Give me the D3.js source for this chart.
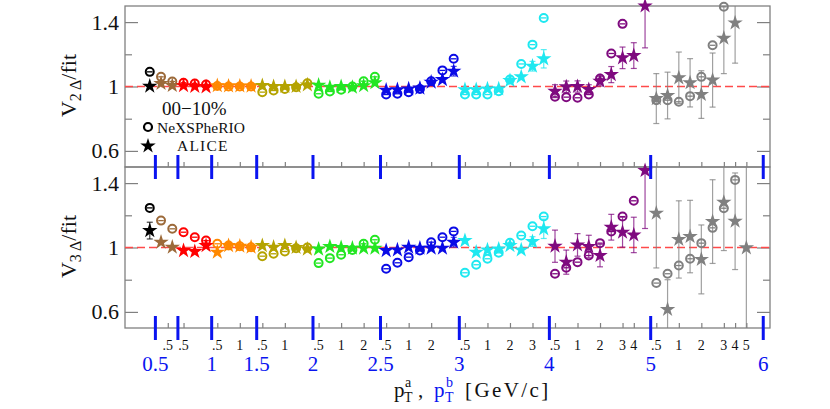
<!DOCTYPE html>
<html>
<head>
<meta charset="utf-8">
<script src="https://cdn.jsdelivr.net/npm/d3@7"></script>
<style>
  body { margin: 0; background: #fff; }
  svg, svg text { font-family: "Liberation Serif", "DejaVu Serif", serif; }
</style>
</head>
<body>
<script>
const width = 830, height = 409;
const serif = '"Liberation Serif", "DejaVu Serif", serif';

// pT^a bins : group g holds g+1 pT^b slots
const groupColors = ['#000000', '#9c6a3a', '#ff0000', '#ff8800', '#b4a300',
                     '#22e622', '#0a0ae6', '#1ee8f0', '#7f0a7f', '#808080'];
const edgeLabels = ['0.5', '', '1', '1.5', '2', '2.5', '3', '4', '5', '6'];
const ptbLabels = ['.5', '1', '2', '3', '4', '5'];
const ptbSlots = [0, 2, 4, 6, 7, 8];

// NeXSPheRIO (open circles), ALICE (stars) -- V2
const v2Hydro = [
  1.091,
  1.06, 1.031,
  1.023, 1.019, 1.012,
  1.003, 1.0, 1.0, 1.0,
  0.965, 0.975, 0.985, 0.995, 1.02,
  0.955, 0.969, 0.98, 1.0, 1.033, 1.06,
  0.95, 0.955, 0.965, 0.985, 1.033, 1.1, 1.172,
  0.95, 0.95, 0.95, 0.97, 1.043, 1.14, 1.26, 1.426,
  0.936, 0.934, 0.93, 0.95, 1.05, 1.205, 1.389, null, null,
  0.915, 0.915, 0.905, 0.94, 1.06, 1.256, 1.495, null, null, null
];
const v2Alice = [
  1.002,
  1.019, 1.006,
  1.005, 1.0, 0.998,
  1.005, 1.003, 1.003, 1.002,
  1.006, 1.0, 1.0, 1.0, 1.01,
  1.008, 0.995, 1.0, 0.995, 1.005, 1.023,
  0.977, 0.98, 0.985, 0.99, 1.027, 1.043, 1.095,
  0.98, 0.98, 0.985, 0.985, 1.037, 1.06, 1.126, 1.172,
  0.971, 0.998, 1.0, 0.981, 1.033, 1.074, 1.178, 1.192, 1.5,
  0.925, 0.944, 1.054, 1.023, 0.95, 1.04, 1.3, 1.395, null, null
];
const v2AliceErr = [
  0.005,
  0.005, 0.005,
  0.005, 0.005, 0.005,
  0.005, 0.005, 0.005, 0.005,
  0.005, 0.005, 0.005, 0.005, 0.008,
  0.005, 0.005, 0.006, 0.007, 0.008, 0.01,
  0.01, 0.01, 0.01, 0.012, 0.015, 0.02, 0.03,
  0.01, 0.01, 0.01, 0.012, 0.015, 0.02, 0.03, 0.057,
  0.04, 0.036, 0.035, 0.03, 0.03, 0.05, 0.067, 0.08, 0.26,
  0.155, 0.145, 0.16, 0.15, 0.148, 0.168, 0.22, 0.25, null, null
];

// V3
const v3Hydro = [
  1.246,
  1.167, 1.116,
  1.095, 1.064, 1.043,
  1.023, 1.012, 1.008, 1.002,
  0.946, 0.961, 0.975, 0.995, 1.0,
  0.903, 0.934, 0.955, 0.985, 1.023, 1.048,
  0.868, 0.905, 0.94, 0.981, 1.033, 1.064, 1.1,
  0.843, 0.893, 0.93, 0.967, 1.029, 1.074, 1.132, 1.192,
  0.837, 0.874, 0.909, 0.95, 1.027, 1.099, 1.192, 1.29, null,
  0.779, 0.837, 0.888, 0.93, 1.027, 1.122, 1.244, 1.42, null, null
];
const v3Alice = [
  1.105,
  1.033, 1.002,
  0.981, 0.975, 1.012,
  0.971, 1.012, 1.008, 1.002,
  1.012, 1.002, 1.012, 1.0, 0.99,
  0.99, 1.006, 1.0, 0.996, 0.996, 0.996,
  0.981, 0.985, 1.002, 0.996, 0.996, 0.996, 1.033,
  1.043, 0.971, 0.985, 0.99, 1.012, 0.985, 1.037, 1.116,
  1.008, 0.909, 1.016, 1.006, 0.95, 1.126, 1.095, 1.078, 1.478,
  1.213, 0.615, 1.05, 1.068, 0.926, 1.161, 1.281, 1.163, 0.998, null
];
const v3AliceErr = [
  0.052,
  0.01, 0.01,
  0.01, 0.01, 0.01,
  0.01, 0.01, 0.01, 0.01,
  0.01, 0.01, 0.01, 0.01, 0.01,
  0.01, 0.01, 0.01, 0.01, 0.012, 0.012,
  0.015, 0.015, 0.015, 0.015, 0.02, 0.02, 0.03,
  0.02, 0.015, 0.015, 0.015, 0.015, 0.02, 0.03, 0.06,
  0.1, 0.075, 0.07, 0.07, 0.07, 0.08, 0.093, 0.11, 0.36,
  0.34, 0.185, 0.24, 0.225, 0.214, 0.26, 0.3, 0.3, 0.6, null
];

// slot list
const slots = [];
groupColors.forEach((c, g) => {
  for (let s = 0; s <= g; s++) slots.push({ g, s, k: slots.length, color: c });
});
const groupStart = g => g * (g + 1) / 2;

const x = d3.scaleLinear().domain([-2.2, 55.1]).range([125, 770]);
const left = 125, right = 770;

const panels = [
  { top: 6, bottom: 167, hydro: v2Hydro, alice: v2Alice, err: v2AliceErr, n: '2' },
  { top: 167, bottom: 328, hydro: v3Hydro, alice: v3Alice, err: v3AliceErr, n: '3' }
];

// pT^b label positions (slot index), shared by minor ticks and labels
const ptbTicks = [];
slots.forEach(d => {
  ptbSlots.forEach((s, i) => {
    if (d.s === s && s <= d.g - 1) ptbTicks.push({ k: d.k + (d.g === 1 ? 0.6 : 0), lab: ptbLabels[i] });
  });
});

const svg = d3.select('body').append('svg')
  .attr('width', width)
  .attr('height', height)
  .attr('font-family', serif);

const star = d3.symbol().type(d3.symbolStar).size(74);

panels.forEach((p, pi) => {
  const y = d3.scaleLinear().domain([0.5, 1.5]).range([p.bottom, p.top]);
  const g = svg.append('g');

  svg.append('clipPath').attr('id', 'clip' + pi)
    .append('rect')
    .attr('x', left).attr('y', p.top)
    .attr('width', right - left).attr('height', p.bottom - p.top);

  // y axes (ticks inward)
  const yl = g.append('g').attr('transform', `translate(${left},0)`)
    .call(d3.axisLeft(y).tickValues([0.6, 1, 1.4]).tickSizeInner(-13).tickSizeOuter(0)
      .tickPadding(6).tickFormat(d3.format('~g')));
  g.append('g').attr('transform', `translate(${left},0)`)
    .call(d3.axisLeft(y).tickValues([0.8, 1.2]).tickSizeInner(-7).tickSizeOuter(0).tickFormat(''));
  g.append('g').attr('transform', `translate(${right},0)`)
    .call(d3.axisRight(y).tickValues([0.6, 1, 1.4]).tickSizeInner(-13).tickSizeOuter(0).tickFormat(''));
  g.append('g').attr('transform', `translate(${right},0)`)
    .call(d3.axisRight(y).tickValues([0.8, 1.2]).tickSizeInner(-7).tickSizeOuter(0).tickFormat(''));
  yl.attr('font-family', serif);
  yl.selectAll('text')
    .attr('font-size', 22)
    .attr('font-family', serif)
    .attr('fill', '#111');

  // x minor ticks at pT^b label slots
  g.append('g').attr('transform', `translate(0,${p.bottom})`)
    .call(d3.axisBottom(x).tickValues(ptbTicks.map(d => d.k)).tickSizeInner(-5).tickSizeOuter(0).tickFormat(''));

  g.selectAll('.domain').remove();
  g.selectAll('.tick line').attr('stroke', '#808080').attr('stroke-width', 1.2);

  // frame
  g.append('rect')
    .attr('x', left).attr('y', p.top)
    .attr('width', right - left).attr('height', p.bottom - p.top)
    .attr('fill', 'none').attr('stroke', '#808080').attr('stroke-width', 1.3);

  // reference line at 1
  g.append('line')
    .attr('x1', left).attr('x2', right)
    .attr('y1', y(1)).attr('y2', y(1))
    .attr('stroke', '#ff4a4a').attr('stroke-width', 1.3)
    .attr('stroke-dasharray', '8,4');

  // ALICE error bars
  const eb = g.append('g').attr('clip-path', `url(#clip${pi})`)
    .selectAll('g').data(slots.filter(d => p.alice[d.k] != null && p.err[d.k] != null))
    .join('g')
    .attr('stroke', d => d.color)
    .attr('stroke-opacity', 0.75)
    .attr('stroke-width', 1.2);
  eb.append('line')
    .attr('x1', d => x(d.k)).attr('x2', d => x(d.k))
    .attr('y1', d => y(p.alice[d.k] - p.err[d.k]))
    .attr('y2', d => y(p.alice[d.k] + p.err[d.k]));
  eb.filter(d => p.err[d.k] > 0.02).selectAll('.cap')
    .data(d => [-1, 1].map(sg => ({ d, v: p.alice[d.k] + sg * p.err[d.k] })))
    .join('line')
    .attr('x1', e => x(e.d.k) - 3).attr('x2', e => x(e.d.k) + 3)
    .attr('y1', e => y(e.v)).attr('y2', e => y(e.v));

  // NeXSPheRIO circles
  const hc = g.append('g').selectAll('g')
    .data(slots.filter(d => p.hydro[d.k] != null))
    .join('g')
    .attr('transform', d => `translate(${x(d.k)},${y(p.hydro[d.k])})`)
    .attr('stroke', d => d.color);
  hc.append('circle').attr('r', 4).attr('fill', 'none').attr('stroke-width', 2);
  hc.append('line').attr('x1', -2.8).attr('x2', 2.8).attr('stroke-width', 1.3);

  // ALICE stars
  g.append('g').selectAll('path')
    .data(slots.filter(d => p.alice[d.k] != null))
    .join('path')
    .attr('d', star)
    .attr('transform', d => `translate(${x(d.k)},${y(p.alice[d.k])})`)
    .attr('fill', d => d.color);

  // y title
  const t = svg.append('text')
    .attr('transform', `translate(76,${y(1) - 1}) rotate(-90)`)
    .attr('text-anchor', 'middle')
    .attr('font-family', serif)
    .attr('font-size', 22)
    .attr('fill', '#111');
  t.append('tspan').text('V');
  t.append('tspan').attr('font-size', 16).attr('dy', 5).text(p.n + '\u2009\u0394');
  t.append('tspan').attr('dy', -5).text('/fit');
});

// pT^a boundaries (blue)
const bounds = edgeLabels.map((lab, g) => ({ lab, pos: x(groupStart(g + 1) - 0.5) }));
const bl = svg.append('g').attr('stroke', '#0a14f0').attr('stroke-width', 3);
[[155, 167], [167, 179], [316, 340]].forEach(([y1, y2]) => {
  bl.selectAll(null).data(bounds).join('line')
    .attr('x1', d => d.pos).attr('x2', d => d.pos)
    .attr('y1', y1).attr('y2', y2);
});
svg.append('g').selectAll('text').data(bounds).join('text')
  .attr('x', d => d.pos).attr('y', 371)
  .attr('text-anchor', 'middle')
  .attr('font-family', serif)
  .attr('font-size', 21)
  .attr('fill', '#0a14f0')
  .text(d => d.lab);

// pT^b labels (black)
svg.append('g').selectAll('text').data(ptbTicks).join('text')
  .attr('x', d => x(d.k)).attr('y', 350)
  .attr('text-anchor', 'middle')
  .attr('font-family', serif)
  .attr('font-size', 14)
  .attr('fill', '#111')
  .text(d => d.lab);

// x title
const xt = svg.append('text').attr('y', 397).attr('font-family', serif).attr('font-size', 21).attr('fill', '#111');
xt.append('tspan').attr('x', 394).text('p');
xt.append('tspan').attr('x', 405).attr('dy', -10).attr('font-size', 14).text('a');
xt.append('tspan').attr('x', 404).attr('dy', 15).attr('font-size', 14).text('T');
xt.append('tspan').attr('x', 418).attr('dy', -5).text(',');
xt.append('tspan').attr('x', 434).attr('fill', '#0a14f0').text('p');
xt.append('tspan').attr('x', 446).attr('dy', -10).attr('font-size', 14).attr('fill', '#0a14f0').text('b');
xt.append('tspan').attr('x', 445).attr('dy', 15).attr('font-size', 14).attr('fill', '#0a14f0').text('T');
xt.append('tspan').attr('x', 465).attr('dy', -5).attr('letter-spacing', 2.4).text('[GeV/c]');

// legend
svg.append('text').attr('x', 162).attr('y', 115).attr('font-family', serif)
  .attr('font-size', 19).attr('fill', '#111').text('00\u221210%');
svg.append('circle').attr('cx', 148).attr('cy', 127).attr('r', 4)
  .attr('fill', 'none').attr('stroke', '#000').attr('stroke-width', 2.2);
svg.append('text').attr('x', 157).attr('y', 133).attr('font-family', serif)
  .attr('font-size', 15.5).attr('fill', '#111').text('NeXSPheRIO');
svg.append('path').attr('d', star).attr('transform', 'translate(148,146)').attr('fill', '#000');
svg.append('text').attr('x', 177).attr('y', 151).attr('font-family', serif).attr('font-size', 15.5)
  .attr('letter-spacing', 1.2).attr('fill', '#111').text('ALICE');
</script>
</body>
</html>
